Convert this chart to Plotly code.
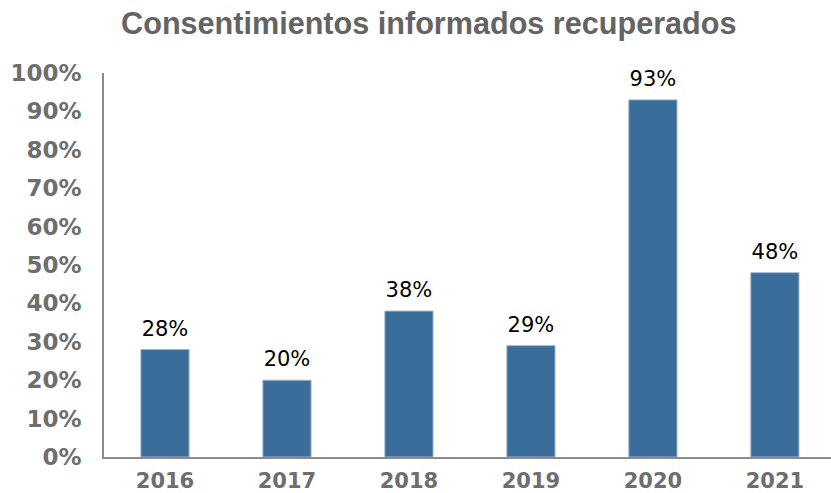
import plotly.graph_objects as go

years = ["2016", "2017", "2018", "2019", "2020", "2021"]
values = [28, 20, 38, 29, 93, 48]
labels = ["28%", "20%", "38%", "29%", "93%", "48%"]
tick_vals = [0, 10, 20, 30, 40, 50, 60, 70, 80, 90, 100]
tick_text = ["0%", "10%", "20%", "30%", "40%", "50%", "60%", "70%", "80%", "90%", "100%"]

fig = go.Figure()
fig.add_trace(go.Bar(
    x=years, y=values,
    width=0.395,
    marker=dict(color="#3B6D9B", line=dict(color="#9DB6D0", width=1)),
    hoverinfo="skip",
))
fig.add_trace(go.Scatter(
    x=years, y=values, text=labels, mode="text+markers",
    textposition="top center",
    marker=dict(size=12, opacity=0),
    textfont=dict(family="DejaVu Sans", size=21, color="#000000"),
    hoverinfo="skip", cliponaxis=False,
))

fig.update_layout(
    width=831, height=493,
    margin=dict(l=104, r=0, t=73, b=36, autoexpand=False),
    paper_bgcolor="white", plot_bgcolor="white",
    showlegend=False,
    title=dict(text="<b>Consentimientos informados recuperados</b>",
               x=0.516, xanchor="center", y=0.953, yanchor="middle", automargin=False,
               font=dict(family="Liberation Sans", size=30.6, color="#646464")),
    xaxis=dict(type="category", range=[-0.5, 5.46], showline=True, linecolor="#8C8C8C", linewidth=1.5,
               showgrid=False, ticks="", ticklabelstandoff=4, automargin=False,
               tickfont=dict(family="DejaVu Sans", size=21, color="#6E6E6E", weight="bold")),
    yaxis=dict(range=[0, 100], tickvals=tick_vals, ticktext=tick_text, showline=True,
               linecolor="#8C8C8C", linewidth=1.5, showgrid=False, zeroline=False, ticks="",
               ticklabelstandoff=16, automargin=False,
               tickfont=dict(family="DejaVu Sans", size=23, color="#6E6E6E", weight="bold")),
)

fig.write_html("out.html", config={"displayModeBar": False},
               post_script="document.body.style.margin='0';document.body.style.overflow='hidden';")
